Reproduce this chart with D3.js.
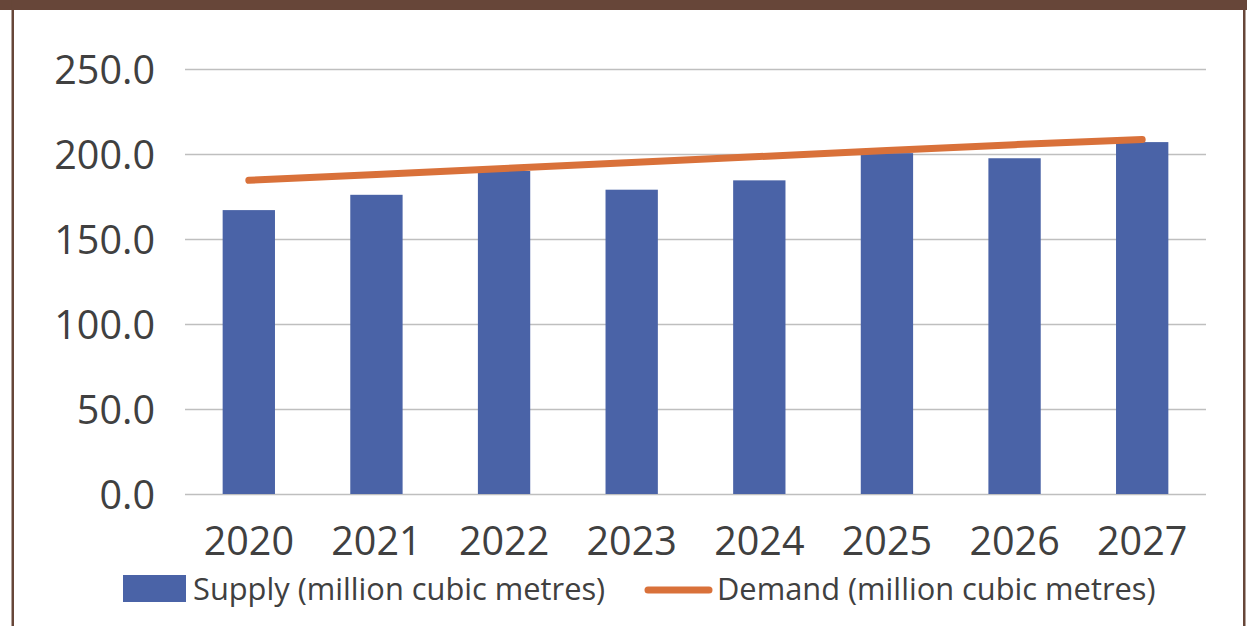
<!DOCTYPE html>
<html>
<head>
<meta charset="utf-8">
<script src="https://cdn.jsdelivr.net/npm/d3@7"></script>
<style>
  html, body { margin: 0; padding: 0; background: #fff; }
  svg { display: block; }
</style>
</head>
<body>
<svg id="chart" width="1247" height="626"></svg>
<script>
// Water supply vs demand, 2020–2027
const years = ["2020", "2021", "2022", "2023", "2024", "2025", "2026", "2027"];
const supply = [167, 176, 190, 179, 184.5, 200.5, 197.5, 207];
const demand = [184.5, 188, 191.5, 195, 198.5, 202, 205.5, 208.5];
const yTicks = [0, 50, 100, 150, 200, 250];
const seriesNames = ["Supply (million cubic metres)", "Demand (million cubic metres)"];

const W = 1247, H = 626;
const svg = d3.select("#chart");
const font = "'Open Sans', 'Noto Sans', sans-serif";
const textColor = "#404040";
const barColor = "#4A63A7";
const lineColor = "#D9713A";
const frameColor = "#674639";

// frame: top band plus side rules
svg.append("rect").attr("x", 0).attr("y", 0).attr("width", W).attr("height", 10).attr("fill", frameColor);
svg.append("rect").attr("x", 11.5).attr("y", 0).attr("width", 2.5).attr("height", H).attr("fill", frameColor);
svg.append("rect").attr("x", 1243).attr("y", 0).attr("width", 2.5).attr("height", H).attr("fill", frameColor);

const x = d3.scaleBand().domain(years).range([185, 1206]).paddingInner(0.59).paddingOuter(0.295);
const y = d3.scaleLinear().domain([0, 250]).range([494, 69]);

// horizontal gridlines with value labels
const yAxis = d3.axisLeft(y).tickValues(yTicks).tickFormat(d3.format(".1f"))
  .tickSize(-(1206 - 185)).tickPadding(30);
const gy = svg.append("g").attr("transform", "translate(185,0)").call(yAxis);
gy.select(".domain").remove();
gy.selectAll(".tick line").attr("stroke", "#BFBFBF").attr("stroke-width", 1.5);
gy.selectAll(".tick text").attr("font-family", font).attr("font-size", 39.5)
  .attr("fill", textColor).attr("dy", "0.36em");

// bars
svg.append("g").selectAll("rect").data(years).join("rect")
  .attr("x", d => x(d))
  .attr("width", x.bandwidth())
  .attr("y", (d, i) => y(supply[i]))
  .attr("height", (d, i) => y(0) - y(supply[i]))
  .attr("fill", barColor);

// demand line
const line = d3.line().x((d, i) => x(years[i]) + x.bandwidth() / 2).y(d => y(d));
svg.append("path").datum(demand).attr("d", line)
  .attr("fill", "none").attr("stroke", lineColor).attr("stroke-width", 7)
  .attr("stroke-linecap", "round").attr("stroke-linejoin", "round");

// category labels
const xAxis = d3.axisBottom(x).tickSize(0).tickPadding(0);
const gx = svg.append("g").attr("transform", "translate(0,494)").call(xAxis);
gx.select(".domain").remove();
gx.selectAll(".tick text").attr("font-family", font).attr("font-size", 39.5)
  .attr("fill", textColor).attr("dy", null).attr("y", 61);

// legend
const lg = svg.append("g");
lg.append("rect").attr("x", 123).attr("y", 575).attr("width", 63).attr("height", 27).attr("fill", barColor);
lg.append("text").attr("x", 193).attr("y", 600).text(seriesNames[0])
  .attr("font-family", font).attr("font-size", 30.8).attr("fill", textColor);
lg.append("line").attr("x1", 648).attr("x2", 709).attr("y1", 590).attr("y2", 590)
  .attr("stroke", lineColor).attr("stroke-width", 7).attr("stroke-linecap", "round");
lg.append("text").attr("x", 717).attr("y", 600).text(seriesNames[1])
  .attr("font-family", font).attr("font-size", 30.8).attr("fill", textColor);
</script>
</body>
</html>
